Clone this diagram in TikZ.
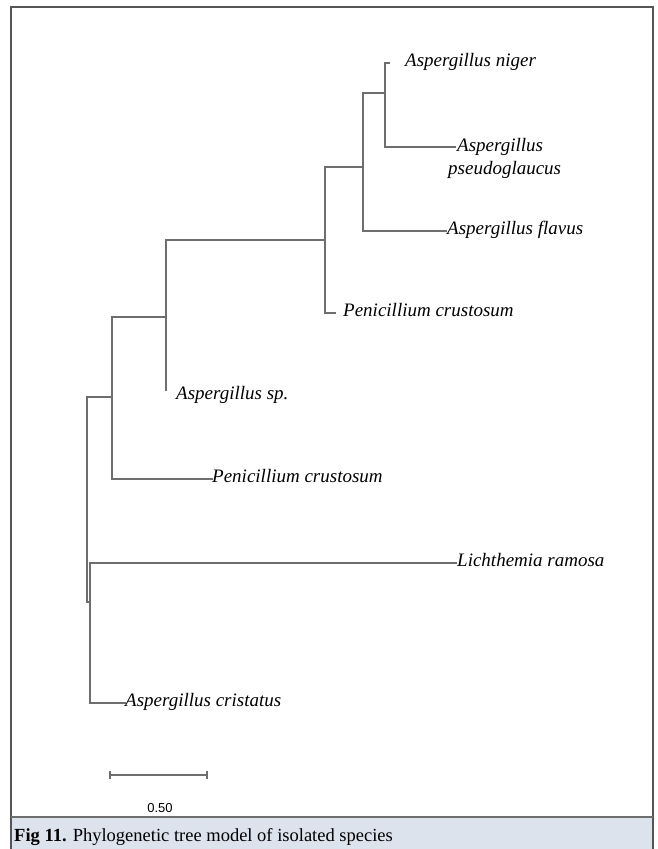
\documentclass[tikz,border=0pt]{standalone}
\usepackage{fontspec}
\setmainfont{Liberation Serif}
\setsansfont{Liberation Sans}
\usepackage{xcolor}
\usetikzlibrary{arrows.meta,positioning,calc}
\definecolor{branchgray}{RGB}{110,110,110}
\definecolor{framegray}{RGB}{85,85,85}
\definecolor{captionblue}{RGB}{221,227,237}

\begin{document}
\begin{tikzpicture}[
    x=1pt, y=-1pt,
    branch/.style={draw=branchgray, line width=1.8pt, line cap=rect},
    taxon/.style={font=\fontsize{19}{23}\selectfont\itshape, inner sep=0pt, anchor=base west},
    frame/.style={draw=framegray, line width=1.5pt},
    scalebar/.style={draw=branchgray, line width=1.6pt, {Bar[width=8pt]}-{Bar[width=8pt]}},
    scalelabel/.style={font=\sffamily\fontsize{13}{13}\selectfont, inner sep=0pt}
]
    \useasboundingbox (0,0) rectangle (657,849);

    % Frame and caption
    \fill[captionblue] (11,817) rectangle (653,849);
    \draw[frame] (11,849) -- (11,7) -- (653,7) -- (653,849);
    \draw[draw=branchgray, line width=1.5pt] (11,817) -- (653,817);
    \node[anchor=base west, inner sep=0pt, font=\fontsize{18.5}{21}\selectfont] (caption) at (14,841)
        {\textbf{Fig 11.} Phylogenetic tree model of isolated species};

    % Internal nodes
    \coordinate (root) at (87,500);
    \coordinate (c6) at (90,602);
    \coordinate (c5) at (112,397);
    \coordinate (c4) at (166,317);
    \coordinate (c3) at (325,240);
    \coordinate (c2) at (363,167);
    \coordinate (c1) at (385,93);

    % Leaves
    \coordinate (lniger) at (389,63);
    \coordinate (lpseudo) at (455,147);
    \coordinate (lflavus) at (446,231);
    \coordinate (lpen1) at (335,313);
    \coordinate (lsp) at (166,390);
    \coordinate (lpen2) at (212,479);
    \coordinate (llich) at (456,563);
    \coordinate (lcrist) at (125,703);

    % Taxa
    \node[taxon] (niger) at ($(lniger)+(16,3.5)$) {Aspergillus niger};
    \node[taxon, align=left] (pseudo) at ($(lpseudo)+(-7,27)$) {\hspace*{9pt}Aspergillus\\pseudoglaucus};
    \node[taxon] (flavus) at ($(lflavus)+(1,3.5)$) {Aspergillus flavus};
    \node[taxon] (pen1) at ($(lpen1)+(8,3.5)$) {Penicillium crustosum};
    \node[taxon] (asp) at ($(lsp)+(10,9)$) {Aspergillus sp.};
    \node[taxon] (pen2) at ($(lpen2)+(0,3.5)$) {Penicillium crustosum};
    \node[taxon] (lich) at ($(llich)+(1,3.5)$) {Lichthemia ramosa};
    \node[taxon] (crist) at ($(lcrist)+(0,3.5)$) {Aspergillus cristatus};

    % Branches
    \draw[branch] (c1) |- (lniger);
    \draw[branch] (c1) |- (lpseudo);
    \draw[branch] (c2) |- (c1);
    \draw[branch] (c2) |- (lflavus);
    \draw[branch] (c3) |- (c2);
    \draw[branch] (c3) |- (lpen1);
    \draw[branch] (c4) |- (c3);
    \draw[branch] (c4) |- (lsp);
    \draw[branch] (c5) |- (c4);
    \draw[branch] (c5) |- (lpen2);
    \draw[branch] (root) |- (c5);
    \draw[branch] (root) |- (c6);
    \draw[branch] (c6) |- (llich);
    \draw[branch] (c6) |- (lcrist);

    % Scale
    \coordinate (sbl) at (109,775);
    \coordinate (sbr) at (208,775);
    \draw[scalebar] (sbl) -- (sbr);
    \node[scalelabel] (scale) at (160,808) {0.50};
\end{tikzpicture}
\end{document}
